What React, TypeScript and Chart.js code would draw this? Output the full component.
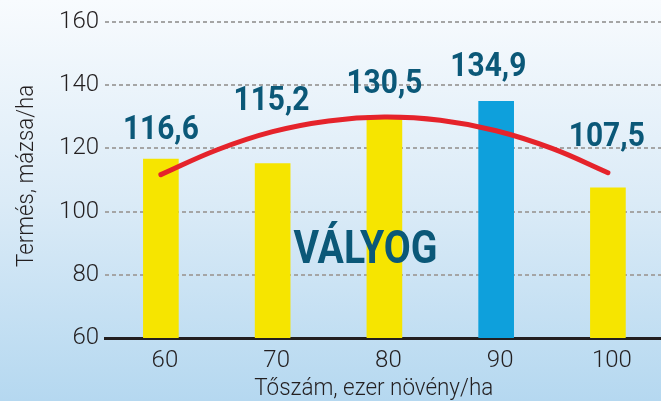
import { useEffect, useRef } from "react";
import { Chart, registerables } from "chart.js";

Chart.register(...registerables);

// ---- data ----
const categories = [60, 70, 80, 90, 100];
const yields = [116.6, 115.2, 130.5, 134.9, 107.5];
const valueLabels = ["116,6", "115,2", "130,5", "134,9", "107,5"];
const highlightIndex = 3;
const trendX = [60, 65, 70, 75, 80, 85, 90, 95, 100];
const trendY = [111.7, 119.5, 125.3, 128.7, 129.9, 128.9, 125.6, 120.0, 112.3];
const yTickValues = [60, 80, 100, 120, 140, 160];
const xTitle = "Tőszám, ezer növény/ha";
const yTitle = "Termés, mázsa/ha";
const soilLabel = "VÁLYOG";

const TEAL = "#0b5878";
const INK = "#231f20";

function drawText(
  ctx: CanvasRenderingContext2D,
  text: string,
  px: number,
  py: number,
  font: string,
  color: string,
  targetW: number,
  rotate = 0
) {
  ctx.save();
  ctx.font = font;
  const w = ctx.measureText(text).width;
  const sx = targetW / w;
  ctx.translate(px, py);
  if (rotate) ctx.rotate(rotate);
  ctx.scale(sx, 1);
  ctx.fillStyle = color;
  ctx.textAlign = "center";
  ctx.textBaseline = "alphabetic";
  ctx.fillText(text, 0, 0);
  ctx.restore();
}

const textPlugin = {
  id: "textPlugin",
  afterDatasetsDraw(chart: any, _args: any, opts: any) {
    const { ctx, scales, chartArea } = chart;
    const x = scales.x;
    const y = scales.y;
    valueLabels.forEach((t, i) => {
      const [vx, vy] = opts.labelAnchors[i];
      const px = x.getPixelForValue(vx);
      const py = y.getPixelForValue(vy) + 12;
      drawText(ctx, t, px, py, "bold 34px Roboto", TEAL, 76);
    });
    drawText(
      ctx,
      soilLabel,
      x.getPixelForValue(opts.soilAnchor[0]),
      y.getPixelForValue(opts.soilAnchor[1]),
      "bold 46px Roboto",
      TEAL,
      144
    );
    drawText(ctx, xTitle, x.getPixelForValue(79.05), chartArea.bottom + 57, "300 24px Roboto", INK, 239);
    drawText(ctx, yTitle, 33, y.getPixelForValue(111.3), "300 24px Roboto", INK, 182, -Math.PI / 2);
  },
};

export default function App() {
  const ref = useRef<HTMLCanvasElement | null>(null);

  useEffect(() => {
    if (!ref.current) return;
    const chart = new Chart(ref.current, {
      type: "bar",
      data: {
        datasets: [
          {
            type: "line",
            data: trendX.map((v, i) => ({ x: v, y: trendY[i] })),
            borderColor: "#e5232b",
            borderWidth: 5,
            pointRadius: 0,
            tension: 0.4,
            borderCapStyle: "round",
            fill: false,
            order: 0,
          } as any,
          {
            type: "bar",
            data: categories.map((c, i) => ({ x: c, y: yields[i] })),
            backgroundColor: categories.map((_, i) => (i === highlightIndex ? "#0ea0dc" : "#f6e500")),
            barThickness: 35,
            order: 1,
          } as any,
        ],
      },
      options: {
        responsive: false,
        animation: false,
        layout: { padding: { top: 22, right: 0, left: 0, bottom: 0 } },
        plugins: {
          legend: { display: false },
          tooltip: { enabled: false },
          textPlugin: {
            labelAnchors: [
              [60, 126.8],
              [69.9, 136.0],
              [80, 141.3],
              [89.3, 146.7],
              [99.9, 124.6],
            ],
            soilAnchor: [78.3, 83.7],
          },
        } as any,
        scales: {
          x: {
            type: "linear",
            min: 55,
            max: 104.75,
            offset: false,
            z: 1,
            afterBuildTicks: (scale: any) => {
              scale.ticks = categories.map((v) => ({ value: v }));
            },
            afterFit: (scale: any) => {
              scale.height = 63;
            },
            grid: { display: false, drawTicks: false, offset: false },
            border: { display: true, color: INK, width: 3 },
            ticks: {
              font: { family: "Roboto", size: 24, weight: "300" },
              color: INK,
              padding: 9,
              labelOffset: 4,
              maxRotation: 0,
            },
          },
          y: {
            min: 60,
            max: 160,
            afterBuildTicks: (scale: any) => {
              scale.ticks = yTickValues.map((v) => ({ value: v }));
            },
            afterFit: (scale: any) => {
              scale.width = 105;
            },
            grid: {
              color: "#a5a5a5",
              lineWidth: 2,
              drawTicks: false,
            },
            border: { display: false, dash: [4, 3] },
            ticks: {
              font: { family: "Roboto", size: 24, weight: "300" },
              color: INK,
              padding: 6,
            },
          } as any,
        },
      },
      plugins: [textPlugin],
    });
    return () => chart.destroy();
  }, []);

  return (
    <div
      style={{
        position: "absolute",
        left: 0,
        top: 0,
        width: 661,
        height: 401,
        overflow: "hidden",
        background: "linear-gradient(to bottom, #f8fbfe 0%, #dbebf7 50%, #b5d8f0 100%)",
      }}
    >
      <canvas ref={ref} width={661} height={401} style={{ display: "block" }} />
    </div>
  );
}
